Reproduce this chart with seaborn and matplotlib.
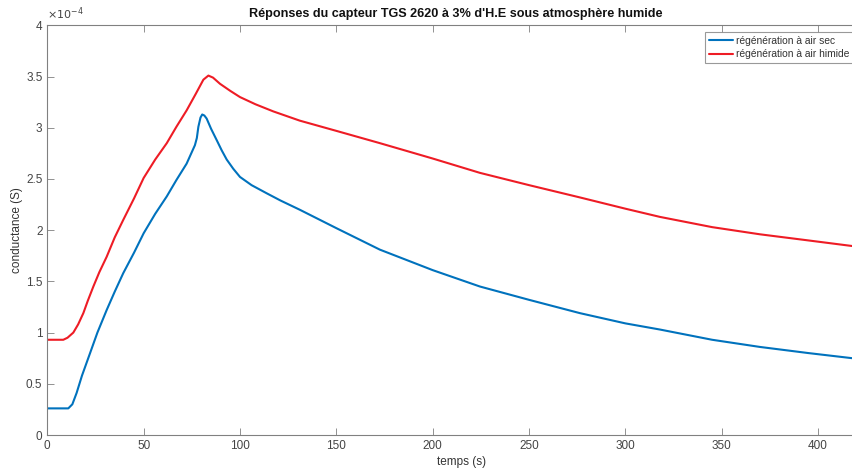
import matplotlib
matplotlib.use("Agg")
import matplotlib.pyplot as plt
import matplotlib.ticker as mticker
import numpy as np
import pandas as pd
import seaborn as sns

# temps (s) et conductance (x 1e-4 S)
t_sec = [0, 5, 10.9, 13, 15.2, 18, 22.2, 26, 30.8, 35, 39.4, 45, 50, 56, 62, 67, 72.3,
         76.6, 77.6, 78.4, 79.5, 80.4, 81.5, 82.7, 85, 87.9, 90.5, 93.1, 96.5, 100, 106,
         113.9, 121, 131, 150, 172.6, 200, 224.5, 250, 276.4, 300, 317.9, 345, 369.8,
         395, 420]
g_sec = [0.26, 0.26, 0.26, 0.30, 0.41, 0.58, 0.80, 1.00, 1.22, 1.40, 1.58, 1.78, 1.97,
         2.16, 2.33, 2.49, 2.65, 2.83, 2.90, 3.01, 3.10, 3.13, 3.12, 3.09, 2.99, 2.88,
         2.78, 2.69, 2.60, 2.52, 2.44, 2.36, 2.29, 2.20, 2.02, 1.81, 1.61, 1.45, 1.32,
         1.19, 1.09, 1.03, 0.93, 0.86, 0.80, 0.745]

t_hum = [0, 5, 8.3, 10.5, 13.5, 16, 18.7, 21, 23.9, 27, 30.8, 35, 39.4, 45, 50, 56, 62,
         67, 72.3, 77, 81, 83.6, 86, 89.6, 95, 100, 108, 117.3, 131, 150, 172.6, 200,
         224.5, 250, 276.4, 300, 317.9, 345, 369.8, 395, 420]
g_hum = [0.93, 0.93, 0.93, 0.95, 1.00, 1.08, 1.19, 1.31, 1.45, 1.59, 1.74, 1.93, 2.10,
         2.31, 2.51, 2.69, 2.85, 3.01, 3.17, 3.33, 3.47, 3.51, 3.49, 3.43, 3.36, 3.30,
         3.23, 3.16, 3.07, 2.97, 2.85, 2.70, 2.56, 2.44, 2.32, 2.21, 2.13, 2.03, 1.96,
         1.90, 1.84]

labels = ["régénération à air sec", "régénération à air himide"]
colors = ["#0072BD", "#EE1C25"]

sns.set_style("white")
plt.rcParams["font.family"] = ["Liberation Sans", "DejaVu Sans"]

fig = plt.figure(figsize=(8.53, 4.70), dpi=100)
ax = fig.add_axes([47.3 / 853, 35 / 470, 430 * 1.927 / 853, 409.6 / 470])

for t, g, lab, c in [(t_sec, g_sec, labels[0], colors[0]), (t_hum, g_hum, labels[1], colors[1])]:
    df = pd.DataFrame({"t": t, "g": np.array(g) * 1e-4})
    sns.lineplot(data=df, x="t", y="g", ax=ax, color=c, linewidth=1.5, label=lab)

ax.set_xlim(0, 430)
ax.set_ylim(0, 4e-4)
ax.set_xticks(np.arange(0, 401, 50))
ax.set_yticks(np.arange(0, 4.01e-4, 0.5e-4))
ax.yaxis.set_major_formatter(mticker.FuncFormatter(lambda v, p: f"{v * 1e4:g}"))
ax.text(0.0, 1.008, r"$\times10^{-4}$", transform=ax.transAxes, ha="left", va="bottom",
        fontsize=8, color="#444444")

ax.tick_params(direction="in", length=5, width=0.6, colors="#808080",
               labelcolor="#444444", labelsize=8.5, top=True, bottom=True, left=True)
for s in ax.spines.values():
    s.set_color("#808080")
    s.set_linewidth(0.8)

ax.set_xlabel("temps (s)", fontsize=8.5, color="#333333", labelpad=3)
ax.set_ylabel("conductance (S)", fontsize=8.5, color="#333333", labelpad=2)
fig.text(456 / 853, 1 - 14 / 470, "Réponses du capteur TGS 2620 à 3% d'H.E sous atmosphère humide",
         ha="center", va="center", fontsize=9.1, fontweight="bold", color="#111111")

leg = ax.legend(loc="upper left", bbox_to_anchor=(705 / 853, 1 - 32 / 470),
                bbox_transform=fig.transFigure, borderaxespad=0, fontsize=7.4,
                frameon=True, fancybox=False, handlelength=2.4, handletextpad=0.25,
                borderpad=0.35, labelspacing=0.35)
leg.get_frame().set_edgecolor("#808080")
leg.get_frame().set_linewidth(0.8)
for txt in leg.get_texts():
    txt.set_color("#333333")

fig.savefig("out.png", dpi=100)
